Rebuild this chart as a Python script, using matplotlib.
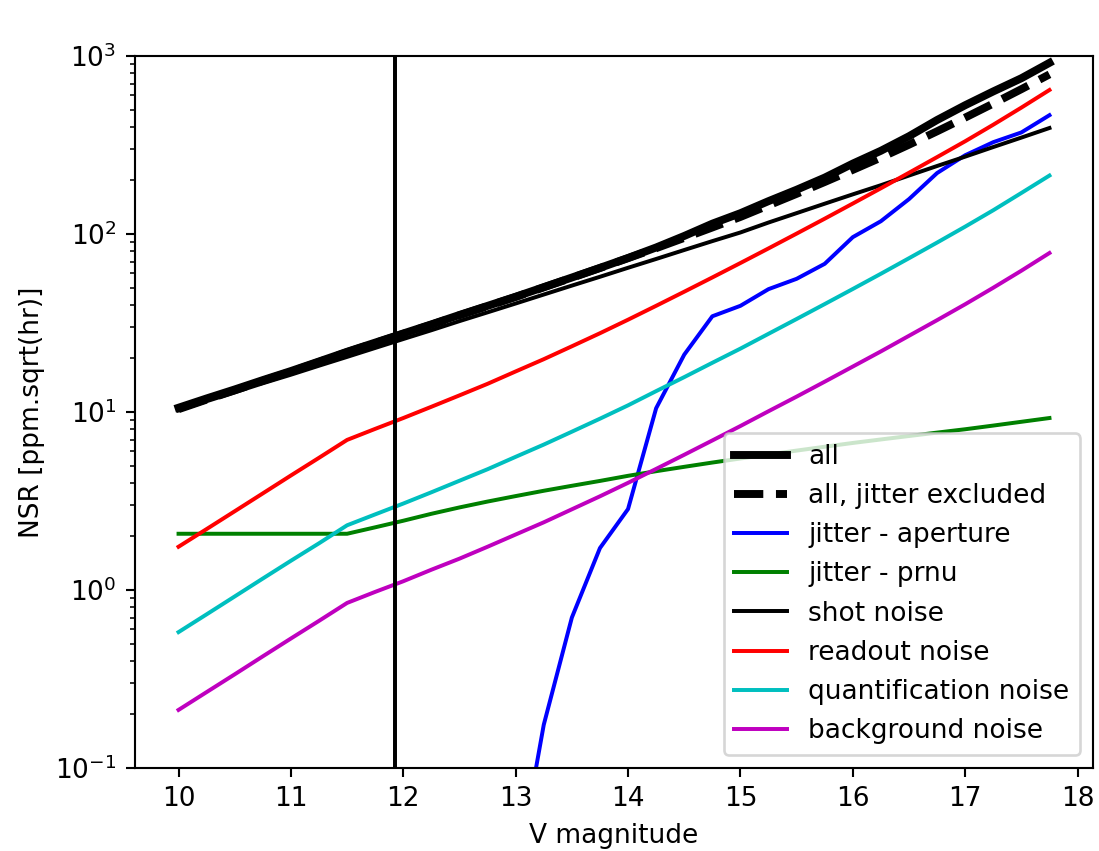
import numpy as np
import matplotlib
matplotlib.use('Agg')
import matplotlib.pyplot as plt

# V magnitude grid
vmag = np.arange(10.0, 17.76, 0.25)

nsr_all = [10.57, 11.92, 13.39, 15.11, 16.99, 19.23, 21.80, 24.54, 27.62, 31.07,
           35.09, 39.47, 44.43, 50.29, 56.94, 64.53, 73.36, 84.01, 97.50, 114.3,
           130.9, 153.0, 177.3, 207.4, 248.6, 293.5, 354.2, 437.0, 529.1, 632.4,
           750.0, 915.4]
nsr_nojit = [10.37, 11.74, 13.23, 14.97, 16.86, 19.12, 21.70, 24.44, 27.51, 30.95,
             34.97, 39.34, 44.30, 50.16, 56.80, 64.38, 73.17, 83.22, 95.08, 108.8,
             124.7, 144.8, 168.1, 195.9, 229.2, 268.7, 317.5, 377.5, 450.8, 540.6,
             651.1, 788.4]
# aperture jitter only visible from V=13
vmag_ap = vmag[12:]
jit_aperture = [0.023, 0.175, 0.70, 1.72, 2.85, 10.5, 21.0, 34.5, 39.5, 49.0,
                56.0, 68.0, 96.0, 118.0, 157.0, 220.0, 277.0, 328.0, 372.0, 465.0]
jit_prnu = [2.07, 2.07, 2.07, 2.07, 2.07, 2.07, 2.07, 2.25, 2.45, 2.68,
            2.91, 3.14, 3.37, 3.61, 3.85, 4.10, 4.38, 4.65, 4.92, 5.20,
            5.48, 5.77, 6.07, 6.38, 6.70, 7.01, 7.33, 7.66, 8.00, 8.39,
            8.81, 9.25]
shot = [10.2, 11.5, 12.9, 14.5, 16.2, 18.2, 20.4, 22.9, 25.7, 28.8,
        32.4, 36.3, 40.7, 45.7, 51.3, 57.5, 64.6, 72.4, 81.3, 91.2,
        102, 116, 131, 148, 167, 188, 213, 241, 272, 308,
        348, 394]
readout = [1.75, 2.20, 2.77, 3.49, 4.40, 5.53, 6.97, 8.04, 9.25, 10.7,
           12.4, 14.4, 16.9, 19.8, 23.4, 27.7, 33.0, 39.5, 47.4, 57.0,
           68.7, 83.0, 100.5, 121.9, 148.3, 180.7, 220.8, 270.4, 331.9, 411.1,
           512.9, 644.2]
quantif = [0.58, 0.73, 0.92, 1.16, 1.46, 1.83, 2.31, 2.66, 3.06, 3.54,
           4.11, 4.77, 5.60, 6.56, 7.75, 9.17, 10.9, 13.1, 15.7, 18.9,
           22.7, 27.5, 33.3, 40.4, 49.1, 59.8, 73.1, 89.5, 110, 136,
           170, 213]
backgr = [0.212, 0.267, 0.336, 0.424, 0.534, 0.671, 0.846, 0.976, 1.12, 1.30,
          1.50, 1.75, 2.05, 2.40, 2.84, 3.36, 4.00, 4.79, 5.75, 6.92,
          8.34, 10.1, 12.2, 14.8, 18.0, 21.9, 26.8, 32.8, 40.3, 49.9,
          62.2, 78.2]

v_cut = 11.93

fig = plt.figure(figsize=(1099/190., 851/190.), dpi=190)
ax = fig.add_axes([135/1099., 83/851., 958/1099., 712/851.])

ax.plot(vmag, nsr_all, 'k', lw=3, label='all')
ax.plot(vmag, nsr_nojit, 'k--', lw=3, label='all, jitter excluded')
ax.plot(vmag_ap, jit_aperture, 'b', label='jitter - aperture')
ax.plot(vmag, jit_prnu, 'g', label='jitter - prnu')
ax.plot(vmag, shot, 'k', label='shot noise')
ax.plot(vmag, readout, 'r', label='readout noise')
ax.plot(vmag, quantif, 'c', label='quantification noise')
ax.plot(vmag, backgr, 'm', label='background noise')
ax.axvline(v_cut, color='k')

ax.set_yscale('log')
ax.set_ylim(0.1, 1000)
ax.set_xlabel('V magnitude')
ax.set_ylabel('NSR [ppm.sqrt(hr)]')
ax.legend(loc='lower right')

fig.savefig('out.png', dpi=190)
plt.close('all')
